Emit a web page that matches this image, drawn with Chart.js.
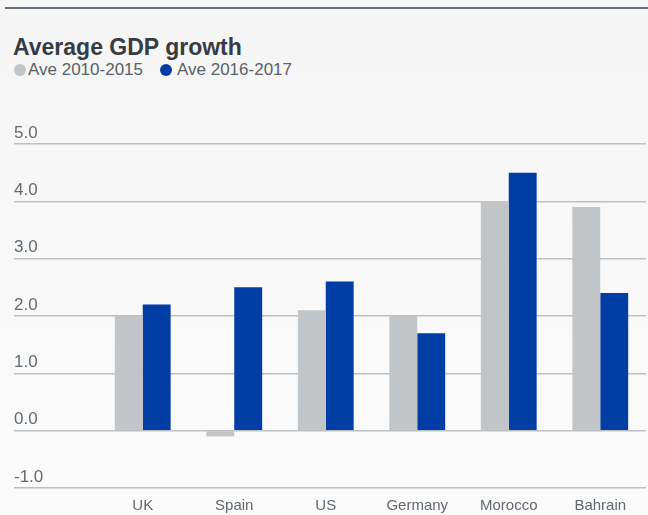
<!DOCTYPE html>
<html>
<head>
<meta charset="utf-8">
<title>Average GDP growth</title>
<script src="https://cdn.jsdelivr.net/npm/chart.js@4/dist/chart.umd.min.js"></script>
<style>
  html, body { margin: 0; padding: 0; }
  body {
    width: 648px; height: 515px; position: relative; overflow: hidden;
    background: linear-gradient(#f5f5f5, #fbfbfb);
    font-family: "Liberation Sans", Arial, Helvetica, sans-serif;
  }
  .top-rule { position: absolute; left: 5px; right: 0; top: 7px; height: 2px; background: #66707a; }
  .title {
    position: absolute; left: 13px; top: 34px; margin: 0;
    font-size: 23px; line-height: 27px; font-weight: bold; color: #353c43;
  }
  .legend { position: absolute; left: 14px; top: 60px; height: 20px; }
  .legend .item { position: absolute; top: 0; height: 20px; line-height: 20px; font-size: 17px; color: #5a6167; white-space: nowrap; }
  .legend .dot { position: absolute; top: 4px; left: 0; width: 12px; height: 12px; border-radius: 50%; }
  .legend .txt { position: absolute; top: 0; }
  #chart { position: absolute; left: 0; top: 0; }
</style>
</head>
<body>
<div class="top-rule"></div>
<h1 class="title">Average GDP growth</h1>
<div class="legend" id="legend"></div>
<canvas id="chart" width="648" height="515"></canvas>

<script>
(function () {
  'use strict';

  var categories = ['UK', 'Spain', 'US', 'Germany', 'Morocco', 'Bahrain'];
  var seriesNames = ['Ave 2010-2015', 'Ave 2016-2017'];
  var ave2010to2015 = [2.0, -0.1, 2.1, 2.0, 4.0, 3.9];
  var ave2016to2017 = [2.2, 2.5, 2.6, 1.7, 4.5, 2.4];
  var yTicks = [-1, 0, 1, 2, 3, 4, 5];

  var GREY = '#c2c5c8';
  var BLUE = '#003da5';
  var GRID = '#bcc0c4';

  // legend item offsets (dot left, text left) relative to the legend box
  var LEGEND_POS = [[0, 14], [146, 163]];

  function renderLegend(chart) {
    var box = document.getElementById('legend');
    box.innerHTML = '';
    chart.data.datasets.forEach(function (ds, i) {
      var item = document.createElement('div');
      item.className = 'item';
      item.style.left = LEGEND_POS[i][0] + 'px';
      var dot = document.createElement('span');
      dot.className = 'dot';
      dot.style.background = ds.backgroundColor;
      var txt = document.createElement('span');
      txt.className = 'txt';
      txt.style.left = (LEGEND_POS[i][1] - LEGEND_POS[i][0]) + 'px';
      txt.textContent = ds.label;
      item.appendChild(dot);
      item.appendChild(txt);
      box.appendChild(item);
    });
  }

  var ctx = document.getElementById('chart').getContext('2d');
  var chart = new Chart(ctx, {
    type: 'bar',
    data: {
      labels: categories,
      datasets: [
        { label: seriesNames[0], data: ave2010to2015, backgroundColor: GREY, borderWidth: 0 },
        { label: seriesNames[1], data: ave2016to2017, backgroundColor: BLUE, borderWidth: 0 }
      ]
    },
    options: {
      responsive: false,
      animation: false,
      devicePixelRatio: 1,
      categoryPercentage: 0.61,
      barPercentage: 1.0,
      layout: { padding: { top: 144, left: 14, right: 2, bottom: 0 } },
      plugins: {
        legend: { display: false },
        title: { display: false },
        tooltip: { enabled: false }
      },
      scales: {
        x: {
          grid: { display: false, drawTicks: false },
          border: { display: false },
          ticks: {
            padding: 9,
            color: '#61686e',
            font: { family: '"Liberation Sans", Arial, sans-serif', size: 15 }
          },
          afterFit: function (scale) { scale.height = 27; }
        },
        y: {
          min: yTicks[0],
          max: yTicks[yTicks.length - 1],
          afterBuildTicks: function (scale) {
            scale.ticks = yTicks.map(function (v) { return { value: v }; });
          },
          grid: { color: GRID, lineWidth: 1.5, tickLength: 83, drawTicks: true },
          border: { display: false },
          ticks: {
            crossAlign: 'far',
            padding: 0,
            labelOffset: -11,
            color: '#636a70',
            font: { family: '"Liberation Sans", Arial, sans-serif', size: 17 },
            callback: function (v) { return Number(v).toFixed(1); }
          },
          afterFit: function (scale) { scale.width = 83; }
        }
      }
    }
  });

  renderLegend(chart);
})();
</script>
</body>
</html>
